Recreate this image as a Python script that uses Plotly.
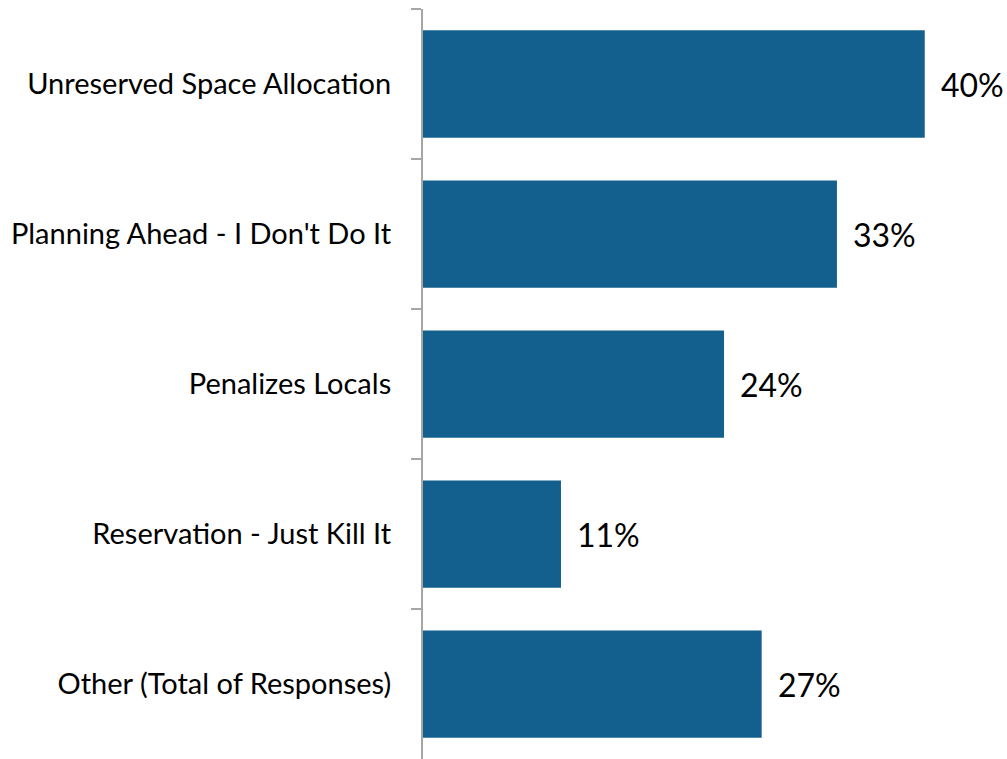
import plotly.graph_objects as go

categories = [
    "Unreserved Space Allocation",
    "Planning Ahead - I Don't Do It",
    "Penalizes Locals",
    "Reservation - Just Kill It",
    "Other (Total of Responses)",
]
values = [40, 33, 24, 11, 27]
value_labels = ["40%", "33%", "24%", "11%", "27%"]

bar_color = "#13608F"
axis_color = "#A6A6A6"
font_family = "Lato, 'Open Sans', sans-serif"

fig = go.Figure()
fig.add_trace(go.Bar(
    x=values,
    y=categories,
    orientation="h",
    marker=dict(color=bar_color, line=dict(width=0)),
    hoverinfo="skip",
))

for cat, v, lab in zip(categories, values, value_labels):
    fig.add_annotation(
        x=v, y=cat, text=lab, showarrow=False,
        xanchor="left", yanchor="middle", xshift=14,
        font=dict(family=font_family, size=32, color="#000000"),
    )

fig.update_layout(
    width=1007, height=759,
    margin=dict(l=423, r=7, t=9, b=0),
    paper_bgcolor="white", plot_bgcolor="white",
    bargap=0.285,
    showlegend=False,
    font=dict(family=font_family, color="#000000"),
)
fig.update_xaxes(
    range=[0, 46], visible=False, showgrid=False, zeroline=False,
)
fig.update_yaxes(
    autorange="reversed",
    showline=True, linecolor=axis_color, linewidth=2,
    ticks="outside", tickson="boundaries", ticklen=10, tickwidth=2, tickcolor=axis_color,
    showgrid=False, zeroline=False,
    tickfont=dict(family=font_family, size=29, color="#000000"),
    ticklabelstandoff=24,
)

fig.write_html(
    "out.html",
    config={"displayModeBar": False},
    post_script="document.body.style.margin='0';document.body.style.overflow='hidden';",
)
